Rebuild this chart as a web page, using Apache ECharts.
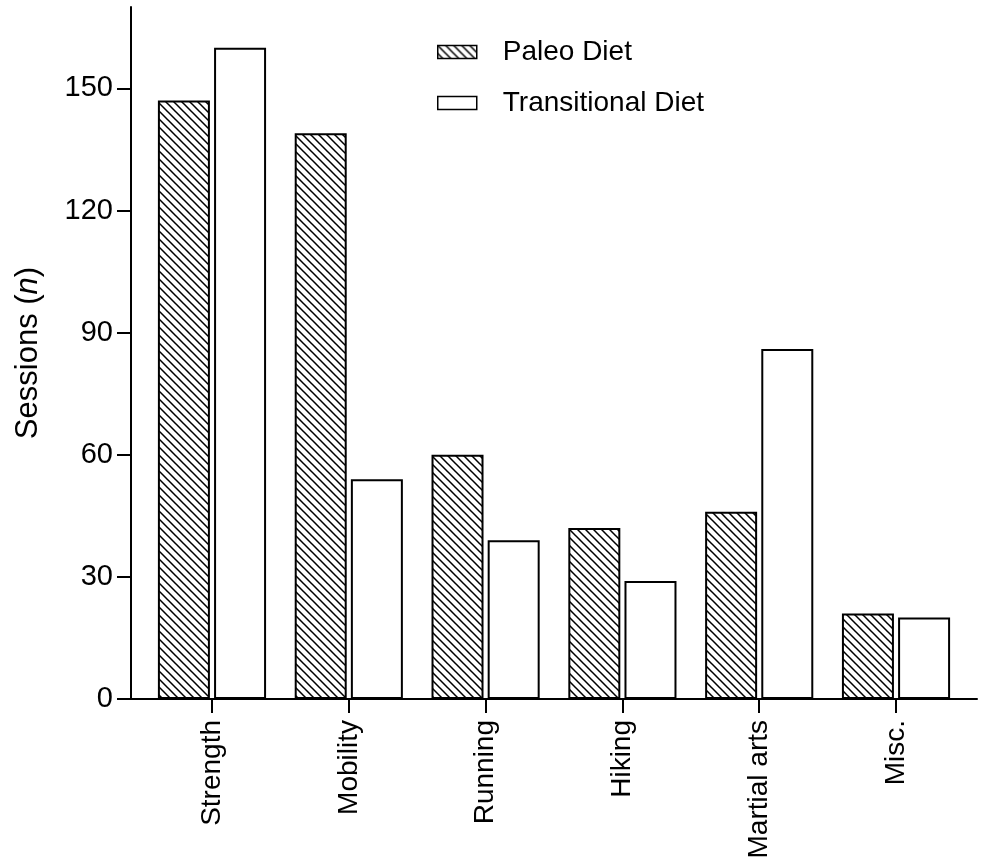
<!DOCTYPE html>
<html>
<head>
<meta charset="utf-8">
<script src="https://cdn.jsdelivr.net/npm/echarts@6/dist/echarts.min.js"></script>
<style>
  html, body { margin: 0; padding: 0; background: #fff; }
  #chart { width: 982px; height: 868px; }
</style>
</head>
<body>
<div id="chart"></div>
<script>
const categories = ['Strength', 'Mobility', 'Running', 'Hiking', 'Martial arts', 'Misc.'];
const seriesNames = ['Paleo Diet', 'Transitional Diet'];
const paleoValues = [147, 139, 60, 42, 46, 21];
const transitionalValues = [160, 54, 39, 29, 86, 20];
const yTickValues = [0, 30, 60, 90, 120, 150];

const FONT = '"Liberation Sans", Arial, Helvetica, sans-serif';

function makeHatch() {
  const s = 8;
  const c = document.createElement('canvas');
  c.width = s; c.height = s;
  const ctx = c.getContext('2d');
  ctx.fillStyle = '#fff';
  ctx.fillRect(0, 0, s, s);
  ctx.strokeStyle = '#000';
  ctx.lineWidth = 1.5;
  ctx.beginPath();
  ctx.moveTo(-1, -1); ctx.lineTo(s + 1, s + 1);
  ctx.moveTo(-1, s - 1); ctx.lineTo(1, s + 1);
  ctx.moveTo(s - 1, -1); ctx.lineTo(s + 1, 1);
  ctx.stroke();
  return c;
}
const hatch = { image: makeHatch(), repeat: 'repeat' };

const xIdx = categories.map((_, i) => i);
const paleoData = paleoValues.map((v, i) => [i, v]);
const transData = transitionalValues.map((v, i) => [i, v]);

const chart = echarts.init(document.getElementById('chart'), null, { renderer: 'canvas' });
chart.setOption({
  animation: false,
  backgroundColor: '#fff',
  textStyle: { fontFamily: FONT, color: '#000' },
  grid: { left: 131, right: 5, top: 7, bottom: 169, containLabel: false },
  legend: {
    orient: 'vertical',
    left: 432,
    top: 33,
    itemWidth: 39,
    itemHeight: 13,
    itemGap: 23,
    icon: 'rect',
    selectedMode: false,
    textStyle: { fontFamily: FONT, fontSize: 28, color: '#000', padding: [0, 0, 0, 21], lineHeight: 28 },
    data: [
      { name: seriesNames[0], itemStyle: { color: hatch, borderColor: '#000', borderWidth: 1.5 } },
      { name: seriesNames[1], itemStyle: { color: '#fff', borderColor: '#000', borderWidth: 1.5 } }
    ]
  },
  xAxis: {
    type: 'value',
    min: -0.592,
    max: 5.592,
    splitLine: { show: false },
    axisLine: { show: true, onZero: false, lineStyle: { color: '#000', width: 2 } },
    axisTick: { show: true, length: 14, lineStyle: { color: '#000', width: 2 }, customValues: xIdx },
    axisLabel: {
      customValues: xIdx,
      rotate: 90,
      margin: 21,
      fontSize: 28,
      fontFamily: FONT,
      color: '#000',
      formatter: v => categories[Math.round(v)]
    }
  },
  yAxis: {
    type: 'value',
    min: 0,
    max: 170,
    splitLine: { show: false },
    axisLine: { show: true, onZero: false, lineStyle: { color: '#000', width: 2 } },
    axisTick: { show: true, length: 14, lineStyle: { color: '#000', width: 2 }, customValues: yTickValues },
    axisLabel: { customValues: yTickValues, margin: 18, fontSize: 29, fontFamily: FONT, color: '#000' },
    name: 'Sessions ({i|n})',
    nameLocation: 'middle',
    nameGap: 87,
    nameTextStyle: {
      fontSize: 31, fontFamily: FONT, color: '#000',
      rich: { i: { fontSize: 31, fontFamily: FONT, fontStyle: 'italic', color: '#000' } }
    }
  },
  series: [
    {
      name: seriesNames[0],
      type: 'bar',
      barWidth: 52,
      barGap: '8%',
      data: paleoData,
      itemStyle: { color: hatch, borderColor: '#000', borderWidth: 2 }
    },
    {
      name: seriesNames[1],
      type: 'bar',
      barWidth: 52,
      barGap: '8%',
      data: transData,
      itemStyle: { color: '#fff', borderColor: '#000', borderWidth: 2 }
    }
  ]
});
</script>
</body>
</html>
